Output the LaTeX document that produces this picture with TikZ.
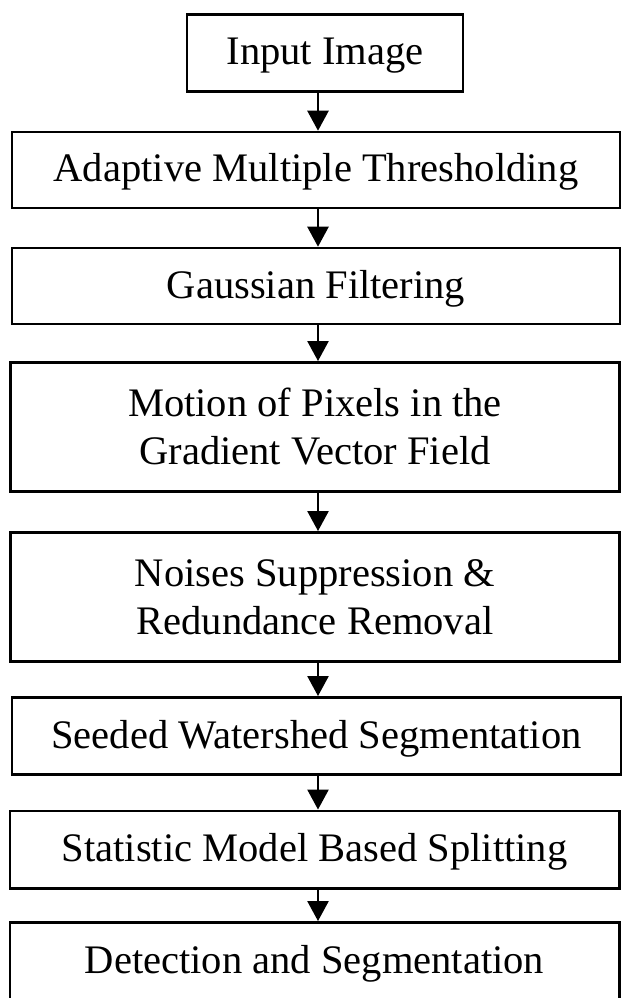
\documentclass[tikz,border=0pt]{standalone}
\usepackage{fontspec}
\setmainfont{Liberation Serif}
\usetikzlibrary{arrows.meta}
\tikzset{
  stepbox/.style={draw, line width=2pt, inner sep=0pt, align=center,
    font=\fontsize{30.4}{36}\selectfont},
  onelinebox/.style={stepbox, text height=24.6pt, text depth=6.6pt},
  flowarrow/.style={line width=1.1pt, -{Triangle[width=16pt,length=15pt]}}
}
\begin{document}
\begin{tikzpicture}[x=0.75pt,y=-0.75pt]
            \useasboundingbox (0,0) rectangle (621,998);
            \node[onelinebox, minimum width=207pt, minimum height=58pt] (input) at (325,53) {Input Image};
            \node[onelinebox, minimum width=456pt, minimum height=57pt] (thresh) at (316,170) {Adaptive Multiple Thresholding};
            \node[onelinebox, minimum width=456pt, minimum height=57pt] (gauss) at (316,286) {Gaussian Filtering};
            \node[stepbox, minimum width=457pt, minimum height=97pt] (motion) at (315,427) {Motion of Pixels in the\\Gradient Vector Field};
            \node[stepbox, minimum width=457pt, minimum height=97pt] (noise) at (315,597) {Noises Suppression \&\\Redundance Removal};
            \node[onelinebox, minimum width=457pt, minimum height=58pt] (seeded) at (316.5,736) {Seeded Watershed Segmentation};
            \node[onelinebox, minimum width=457pt, minimum height=58pt] (stat) at (314.5,849.5) {Statistic Model Based Splitting};
            \node[onelinebox, minimum width=457pt, minimum height=58pt] (detect) at (314.5,961) {Detection and Segmentation};
            \coordinate (axis) at (318,0);
            \foreach \a/\b in {input/thresh, thresh/gauss, gauss/motion, motion/noise, noise/seeded, seeded/stat, stat/detect}
                \draw[flowarrow] (\a.south -| axis) -- (\b.north -| axis);
        \end{tikzpicture}
\end{document}
